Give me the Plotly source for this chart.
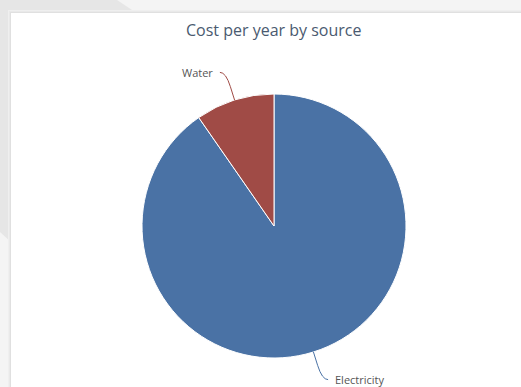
import numpy as np
import plotly.graph_objects as go

# ---- data ----
sources = ["Electricity", "Water"]
costs = [1450, 155]
slice_colors = ["#4a72a5", "#a04b46"]
title_text = "Cost per year by source"

# ---- geometry (pixels) ----
W, H = 521, 387
cx, cy, r = 274, 226, 132

def px(x):
    return x / W

def py(y):
    return 1 - y / H

fig = go.Figure()
fig.add_trace(go.Pie(
    labels=sources, values=costs, sort=False, direction="clockwise", rotation=0,
    marker=dict(colors=slice_colors, line=dict(color="white", width=1)),
    textinfo="none", showlegend=False, hole=0,
    domain=dict(x=[px(cx - r), px(cx + r)], y=[py(cy + r), py(cy - r)]),
))

shapes = []
# page background decoration
shapes.append(dict(type="path", xref="paper", yref="paper",
                   path=f"M {px(0)},{py(0)} L {px(117)},{py(0)} L {px(135)},{py(12)} L {px(11)},{py(242)} L {px(0)},{py(232)} Z",
                   fillcolor="#e6e6e6", line=dict(width=0), layer="below"))
# card shadow + card
for off, col in [(3, "#efefef"), (2, "#e9e9e9"), (1, "#e0e0e0")]:
    shapes.append(dict(type="rect", xref="paper", yref="paper",
                       x0=px(11 - off), x1=px(W + 5), y0=py(H + 5), y1=py(13 - off),
                       fillcolor=col, line=dict(width=0), layer="below"))
shapes.append(dict(type="rect", xref="paper", yref="paper",
                   x0=px(11), x1=px(W + 5), y0=py(H + 5), y1=py(13),
                   fillcolor="white", line=dict(width=0), layer="below"))

annotations = []
total = sum(costs)
cum = 0.0
for name, val, col in zip(sources, costs, slice_colors):
    theta = np.deg2rad(360 * (cum + val / 2) / total)
    cum += val
    ux, uy = np.sin(theta), -np.cos(theta)
    p0 = (cx + r * ux, cy + r * uy)
    p1 = (cx + (r + 14) * ux, cy + (r + 14) * uy)
    pc = (cx + (r + 29) * ux, cy + (r + 29) * uy)
    side = 1 if ux >= 0 else -1
    pe = (pc[0] + side * 6, pc[1])
    path = (f"M {px(p0[0])},{py(p0[1])} L {px(p1[0])},{py(p1[1])} "
            f"Q {px(pc[0])},{py(pc[1])} {px(pe[0])},{py(pe[1])}")
    shapes.append(dict(type="path", xref="paper", yref="paper", path=path,
                       line=dict(color=col, width=1), layer="above"))
    annotations.append(dict(xref="paper", yref="paper", x=px(pe[0] + side * 5), y=py(pe[1]),
                            text=name, showarrow=False,
                            xanchor="left" if side > 0 else "right", yanchor="middle",
                            font=dict(family="Open Sans, Lucida Grande, Arial", size=11, color="#555555")))

annotations.append(dict(xref="paper", yref="paper", x=px(273), y=py(30), text=title_text,
                        showarrow=False, xanchor="center", yanchor="middle",
                        font=dict(family="Open Sans, Lucida Grande, Arial", size=16, color="#4a5a70")))

fig.update_layout(
    width=W, height=H, margin=dict(l=0, r=0, t=0, b=0),
    paper_bgcolor="#f4f4f4", plot_bgcolor="rgba(0,0,0,0)",
    shapes=shapes, annotations=annotations,
)
fig.write_html("out.html", config={"displayModeBar": False},
               post_script="document.body.style.margin='0';document.body.style.overflow='hidden';")
